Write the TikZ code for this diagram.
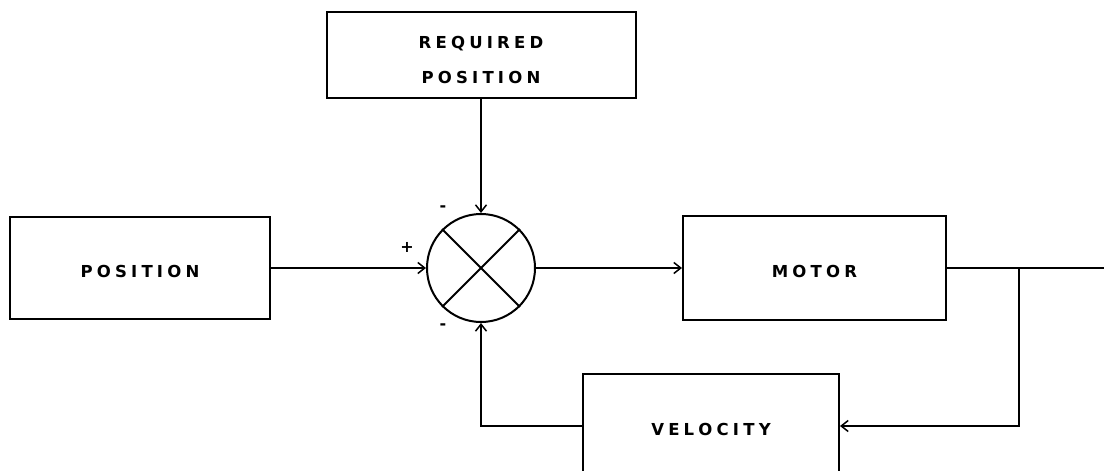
\documentclass[tikz,border=0pt]{standalone}
\usepackage{fontspec}
\newfontfamily\lblfont{DejaVu Sans}
\newcommand\lblsetup{\lblfont\bfseries\fontsize{16.5}{34.5}\selectfont\spaceskip=4.2pt\relax}
\newcommand\signsetup{\lblfont\bfseries\fontsize{16}{18}\selectfont}
\usetikzlibrary{arrows.meta}
\begin{document}
\begin{tikzpicture}[x=1pt,y=-1pt,
  line width=1.9pt,
  blk/.style={draw, line width=2pt, inner sep=0pt, font=\lblsetup},
  one/.style={text height=18pt, text depth=0pt},
  sumc/.style={draw, circle, line width=2pt, minimum size=108pt, inner sep=0pt},
  arr/.style={-{Straight Barb[length=7pt,width=11pt,line width=1.5pt]}},
  sign/.style={font=\signsetup, inner sep=0pt}]
\useasboundingbox (0,0) rectangle (1104,471);
\clip (0,0) rectangle (1104,471);
\fill[white] (0,0) rectangle (1104,471);

\node[blk, minimum width=309pt, minimum height=86pt, align=center] (req) at (481,55)
  {\rule{0pt}{22pt}R E Q U I R E D\\P O S I T I O N};
\node[blk, one, minimum width=260pt, minimum height=102pt] (pos) at (140,268) {P O S I T I O N};
\node[sumc] (sum) at (481,268) {};
\draw[line width=2pt] (sum.45) -- (sum.225) (sum.135) -- (sum.315);
\node[blk, one, minimum width=263pt, minimum height=104pt] (mot) at (814.5,268) {M O T O R};
\node[blk, one, minimum width=256pt, minimum height=104pt] (vel) at (711,426) {V E L O C I T Y};

\coordinate (tap) at (1019,268);
\coordinate (out) at (1104,268);

\draw[arr] (req.south) -- (sum.north);
\draw[arr] (pos.east) -- (sum.west);
\draw[arr] (sum.east) -- (mot.west);
\draw (mot.east) -- (out);
\draw[arr] (tap) |- (vel.east);
\draw[arr] (vel.west) -| (sum.south);

\node[sign] (plus) at (407,247) {+};
\node[sign] (mtop) at (443,209) {-};
\node[sign] (mbot) at (443,327) {-};
\end{tikzpicture}
\end{document}
